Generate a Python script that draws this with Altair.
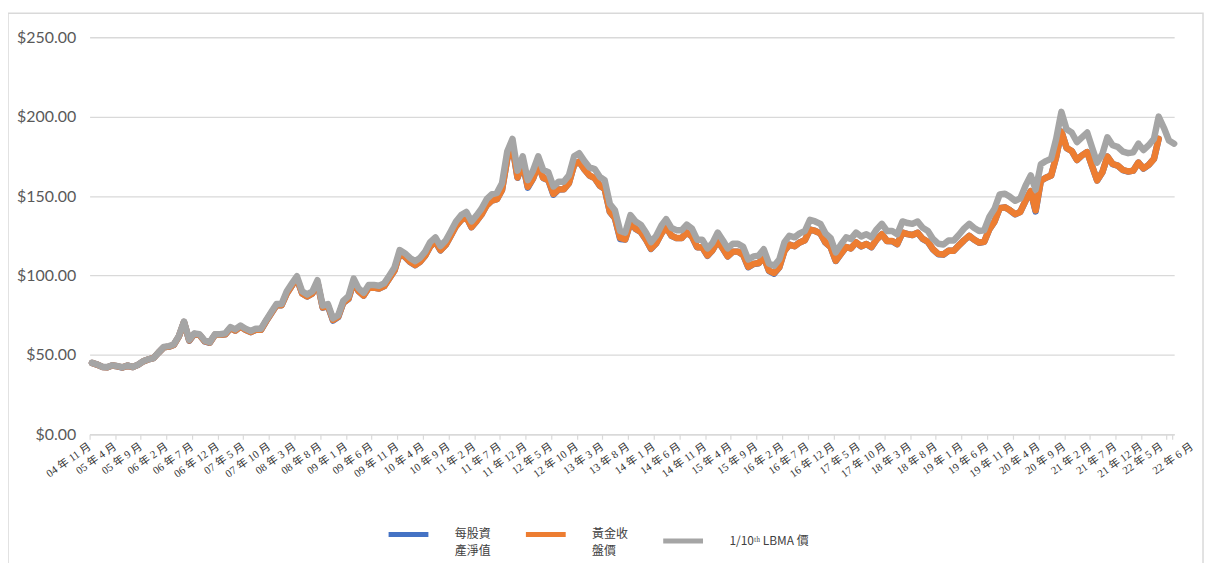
import altair as alt
import pandas as pd

# ---- data, monthly, Nov 2004 onwards ----
series_names = ["每股資產淨值", "黃金收盤價", "1/10ᵗʰ LBMA 價"]
series_colors = ["#4472C4", "#ED7D31", "#A5A5A5"]

lbma_tenth = [
    45.0, 44.0,
    42.5, 42.3, 43.4, 42.9, 42.2, 43.3, 42.4, 43.8, 46.0, 47.2, 48.0, 51.5,
    55.0, 55.5, 56.5, 62.0, 71.0, 59.5, 63.5, 63.0, 59.0, 58.0, 63.0, 63.0,
    63.5, 67.5, 66.0, 68.5, 66.5, 65.0, 66.5, 66.5, 72.0, 77.0, 82.0, 82.0,
    90.0, 95.0, 99.5, 90.0, 88.0, 90.0, 97.0, 81.0, 82.0, 73.0, 75.0, 84.0,
    87.0, 98.0, 92.0, 89.0, 94.0, 94.0, 93.5, 95.0, 100.0, 105.0, 116.0, 114.0,
    111.0, 109.0, 111.0, 115.0, 121.0, 124.0, 118.5, 122.0, 128.0, 134.0, 138.0, 140.0,
    134.0, 138.0, 142.0, 148.0, 151.0, 152.0, 158.0, 178.0, 186.0, 166.0, 175.0, 160.0,
    166.0, 175.0, 166.5, 165.0, 156.0, 159.0, 159.0, 163.0, 175.0, 177.0, 172.0, 168.0,
    167.0, 162.0, 160.0, 145.0, 141.0, 128.0, 127.0, 138.0, 134.0, 132.0, 127.0, 121.0,
    125.0, 131.5, 135.5, 130.0, 128.5, 128.5, 132.0, 129.5, 122.5, 122.5, 117.0, 120.5,
    127.0, 122.0, 117.0, 120.0, 120.0, 118.0, 110.0, 112.0, 112.5, 116.5, 107.5, 106.0,
    110.0, 121.0, 125.0, 124.0, 126.5, 128.0, 135.0, 134.0, 132.5, 126.5, 123.5, 114.5,
    119.5, 124.0, 123.0, 127.0, 124.5, 126.0, 124.0, 129.0, 132.5, 128.0, 128.0, 126.0,
    134.0, 133.0, 132.5, 134.0, 130.0, 128.0, 123.0, 120.0, 119.5, 122.0, 122.0, 125.5,
    129.5, 132.5, 130.0, 128.0, 128.5, 137.0, 142.0, 151.0, 151.5, 149.5, 147.0, 148.5,
    156.5, 163.0, 154.0, 170.0, 172.0, 173.5, 186.0, 203.0, 192.0, 190.0, 184.0, 187.0,
    190.0, 180.0, 171.0, 176.5, 187.0, 182.0, 181.0, 178.0, 177.0, 177.5, 183.0, 179.0,
    182.0, 186.0, 200.0, 193.0, 185.0, 183.0,
]

gold_close = [
    44.9, 43.9,
    42.4, 42.2, 43.3, 42.8, 42.1, 43.2, 42.3, 43.7, 45.9, 47.1, 47.9, 51.4,
    54.7, 55.2, 56.2, 61.6, 70.6, 59.1, 63.1, 62.6, 58.6, 57.7, 62.6, 62.6,
    62.9, 66.8, 65.3, 67.8, 65.8, 64.4, 65.8, 65.8, 71.3, 76.2, 81.2, 81.2,
    88.7, 93.7, 98.1, 88.7, 86.8, 88.7, 95.6, 79.9, 80.9, 72.0, 74.0, 82.8,
    85.4, 96.2, 90.3, 87.4, 92.3, 92.3, 91.8, 93.3, 98.2, 103.1, 113.9, 111.9,
    108.6, 106.6, 108.6, 112.5, 118.3, 121.3, 115.9, 119.3, 125.2, 131.1, 135.0, 136.9,
    130.5, 134.4, 138.3, 144.2, 147.1, 148.0, 153.9, 173.4, 181.2, 161.7, 170.5, 155.8,
    161.0, 169.8, 161.5, 160.1, 151.3, 154.2, 154.2, 158.1, 169.8, 171.7, 166.8, 163.0,
    161.3, 156.5, 154.6, 140.1, 136.2, 123.6, 122.7, 133.3, 129.4, 127.5, 122.7, 116.9,
    120.3, 126.5, 130.4, 125.1, 123.6, 123.6, 127.0, 124.6, 117.8, 117.8, 112.6, 115.9,
    121.7, 116.9, 112.1, 115.0, 115.0, 113.0, 105.4, 107.3, 107.8, 111.6, 103.0, 101.5,
    105.1, 115.6, 119.4, 118.4, 120.8, 122.2, 128.9, 128.0, 126.5, 120.8, 117.9, 109.3,
    113.6, 117.9, 117.0, 120.8, 118.4, 119.8, 117.9, 122.7, 126.0, 121.7, 121.7, 119.8,
    126.9, 126.0, 125.5, 126.9, 123.1, 121.2, 116.5, 113.6, 113.2, 115.5, 115.5, 118.8,
    122.1, 124.9, 122.6, 120.7, 121.2, 129.2, 133.9, 142.4, 142.9, 141.0, 138.6, 140.0,
    147.0, 153.1, 141.0, 159.6, 161.5, 162.9, 174.7, 190.6, 180.3, 178.4, 172.8, 175.6,
    177.7, 168.3, 159.9, 165.0, 174.8, 170.2, 169.2, 166.4, 165.5, 166.0, 171.1, 167.4,
    169.6, 173.4, 186.0,
]

nav_per_share = [
    44.9, 43.9,
    42.4, 42.2, 43.3, 42.8, 42.0, 43.2, 42.3, 43.7, 45.9, 47.1, 47.9, 51.4,
    54.7, 55.2, 56.2, 61.6, 70.6, 58.9, 63.1, 62.6, 58.5, 57.6, 62.6, 62.6,
    62.9, 66.8, 65.3, 67.8, 65.8, 64.3, 65.8, 65.8, 71.3, 76.2, 81.2, 81.2,
    88.7, 93.7, 98.1, 88.6, 86.7, 88.7, 95.6, 79.7, 80.8, 71.6, 73.8, 82.8,
    85.2, 96.2, 90.2, 87.3, 92.3, 92.3, 91.7, 93.3, 98.2, 103.1, 113.9, 111.8,
    108.5, 106.5, 108.6, 112.5, 118.3, 121.3, 115.8, 119.3, 125.2, 131.1, 135.0, 136.9,
    130.4, 134.4, 138.3, 144.2, 147.1, 148.0, 153.9, 173.4, 181.2, 161.5, 170.5, 155.3,
    161.0, 169.8, 161.4, 160.0, 150.8, 154.1, 154.2, 158.1, 169.8, 171.7, 166.8, 162.9,
    161.3, 156.4, 154.5, 140.0, 136.1, 123.0, 122.6, 133.3, 129.3, 127.4, 122.6, 116.7,
    120.3, 126.5, 130.4, 125.0, 123.5, 123.6, 127.0, 124.5, 117.7, 117.7, 112.4, 115.9,
    121.7, 116.8, 112.0, 115.0, 115.0, 112.9, 105.2, 107.2, 107.7, 111.6, 102.9, 101.1,
    105.0, 115.6, 119.4, 118.4, 120.8, 122.2, 128.9, 128.0, 126.5, 120.7, 117.8, 109.1,
    113.6, 117.9, 117.0, 120.8, 118.3, 119.8, 117.8, 122.7, 126.0, 121.7, 121.6, 119.7,
    126.9, 126.0, 125.5, 126.9, 123.0, 121.1, 116.4, 113.4, 113.1, 115.5, 115.5, 118.8,
    122.1, 124.9, 122.6, 120.6, 121.2, 129.2, 133.9, 142.4, 142.9, 141.0, 138.5, 140.0,
    147.0, 153.1, 140.3, 159.6, 161.5, 162.9, 174.7, 190.6, 180.2, 178.4, 172.7, 175.6,
    177.7, 168.2, 159.8, 165.0, 174.8, 170.1, 169.2, 166.3, 165.4, 166.0, 171.1, 167.3,
    169.6, 173.4, 186.0,
]

# x-axis tick months (every 5 months from Nov 2004, plus Jun 2022)
tick_year_month = [
    (2004, 11), (2005, 4), (2005, 9), (2006, 2), (2006, 7), (2006, 12), (2007, 5),
    (2007, 10), (2008, 3), (2008, 8), (2009, 1), (2009, 6), (2009, 11), (2010, 4),
    (2010, 9), (2011, 2), (2011, 7), (2011, 12), (2012, 5), (2012, 10), (2013, 3),
    (2013, 8), (2014, 1), (2014, 6), (2014, 11), (2015, 4), (2015, 9), (2016, 2),
    (2016, 7), (2016, 12), (2017, 5), (2017, 10), (2018, 3), (2018, 8), (2019, 1),
    (2019, 6), (2019, 11), (2020, 4), (2020, 9), (2021, 2), (2021, 7), (2021, 12),
    (2022, 5), (2022, 6),
]
y_ticks = [0, 50, 100, 150, 200, 250]


def frame(values, name):
    dates = pd.date_range("2004-11-01", periods=len(values), freq="MS") + pd.Timedelta(days=14)
    return pd.DataFrame({
        "date": dates.strftime("%Y-%m-%dT00:00:00"),
        "value": values,
        "series": name,
    })


W, H = 1090, 399

x_enc = alt.X(
    "date:T",
    scale=alt.Scale(domain=[alt.DateTime(year=2004, month=11, date=1),
                            alt.DateTime(year=2022, month=6, date=15)]),
    axis=alt.Axis(
        values=[alt.DateTime(year=y, month=m, date=1) for y, m in tick_year_month],
        format="%y 年 %-m 月",
        labelAngle=-35,
        labelAlign="right",
        labelBaseline="middle",
        labelFont="Liberation Serif, Noto Sans CJK TC",
        labelFontSize=11,
        labelColor="#333333",
        labelPadding=6,
        labelOffset={
            "condition": [
                {"test": "year(datum.value) == 2022 && month(datum.value) == 5", "value": 20},
                {"test": "year(datum.value) == 2022 && month(datum.value) == 4", "value": -5},
            ],
            "value": 0,
        },
        labelOverlap=False,
        labelFlush=False,
        grid=False,
        domainColor="#d9d9d9",
        domainWidth=1.5,
        tickColor="#d9d9d9",
        tickWidth=1.2,
        tickSize=5,
        title=None,
    ),
)
y_enc = alt.Y(
    "value:Q",
    scale=alt.Scale(domain=[0, 250], nice=False),
    axis=alt.Axis(
        values=y_ticks,
        format="$,.2f",
        labelFont="Lato",
        labelFontSize=16,
        labelColor="#595959",
        labelPadding=14,
        grid=True,
        gridColor="#d9d9d9",
        gridWidth=1.3,
        domain=False,
        ticks=False,
        title=None,
    ),
)

legend = alt.Legend(
    title=None,
    orient="none",
    legendX=298,
    legendY=477,
    direction="horizontal",
    symbolType="stroke",
    symbolSize=1600,
    symbolStrokeWidth=5,
    labelOffset=24,
    columnPadding=24,
    labelFont="Noto Sans CJK TC",
    labelFontSize=12,
    labelColor="#404040",
    labelLimit=300,
    padding=0,
    labelExpr=("datum.label == '每股資產淨值' ? ['每股資', '產淨值\u2002'] : "
               "datum.label == '黃金收盤價' ? ['黃金收', '盤價\u3000\u3000\u3000'] : datum.label"),
)
color_enc = alt.Color(
    "series:N",
    scale=alt.Scale(domain=series_names, range=series_colors),
    legend=legend,
)

layers = []
for vals, name in [(nav_per_share, series_names[0]),
                   (gold_close, series_names[1]),
                   (lbma_tenth, series_names[2])]:
    layers.append(
        alt.Chart(frame(vals, name))
        .mark_line(strokeWidth=6.5, strokeJoin="round", strokeCap="round")
        .encode(x=x_enc, y=y_enc, color=color_enc)
    )

border = (
    alt.Chart(pd.DataFrame({"k": [0]}))
    .mark_rect(filled=False, stroke="#d9d9d9", strokeWidth=1.5)
    .encode(x=alt.value(-82), x2=alt.value(1119), y=alt.value(-24), y2=alt.value(560))
)

chart = (
    alt.layer(border, *layers)
    .properties(
        width=W,
        height=H,
        autosize=alt.AutoSizeParams(type="none"),
        padding={"left": 82, "top": 28, "right": 31, "bottom": 128},
    )
    .configure(
        view={"stroke": "transparent"},
        style={"guide-label": {"lineHeight": 17}},
    )
)

chart.save("out.html", embed_options={"renderer": "svg", "actions": False})
